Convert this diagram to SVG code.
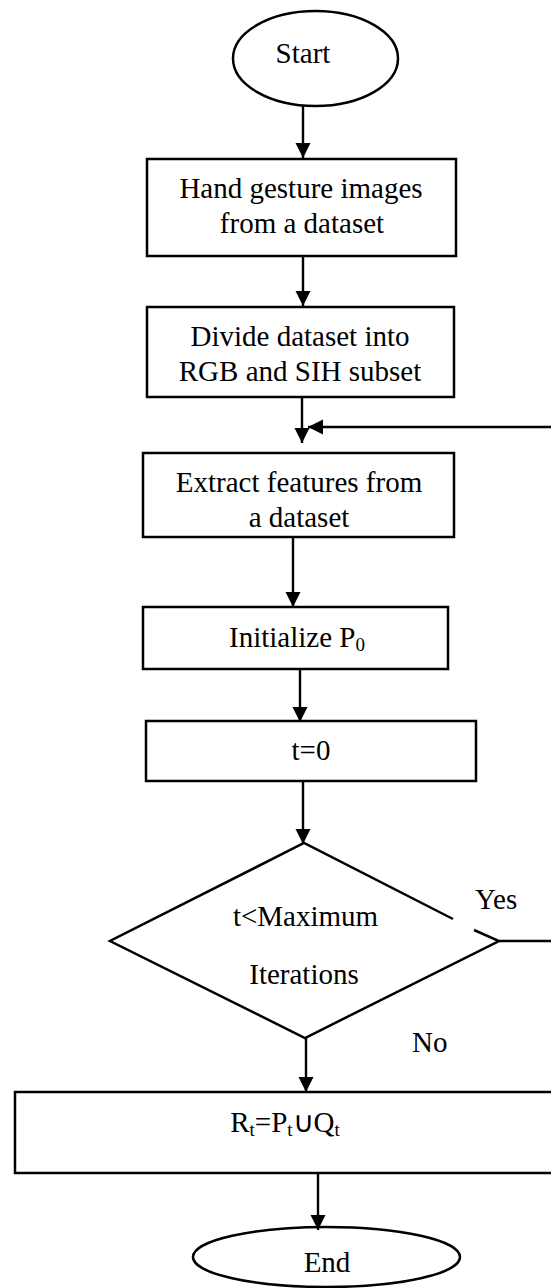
<svg xmlns="http://www.w3.org/2000/svg" width="551" height="1288" viewBox="0 0 551 1288">
<style>
.shape{fill:#fff;stroke:#000;stroke-width:2.5}
.conn{fill:none;stroke:#000;stroke-width:2.4}
text{font-family:"Liberation Serif","Times New Roman",serif;font-size:29px;fill:#000;text-anchor:middle}
.lbl{text-anchor:start}
.sub{font-size:19px}
</style>
<defs>
<marker id="arr" markerUnits="userSpaceOnUse" markerWidth="16" markerHeight="16" refX="15" refY="7.5" orient="auto">
<path d="M0,0 L15,7.5 L0,15 z" fill="#000"/>
</marker>
</defs>
<rect width="551" height="1288" fill="#fff"/>
<g id="start">
<ellipse class="shape" cx="315.5" cy="58.5" rx="82.5" ry="47.5"/>
<text x="303" y="63">Start</text>
</g>
<g id="hand">
<rect class="shape" x="147" y="159" width="309" height="97"/>
<text x="301" y="198">Hand gesture images</text>
<text x="302" y="233">from a dataset</text>
</g>
<g id="divide">
<rect class="shape" x="147" y="307" width="307" height="90"/>
<text x="300" y="346">Divide dataset into</text>
<text x="300" y="381">RGB and SIH subset</text>
</g>
<g id="extract">
<rect class="shape" x="143" y="453" width="311" height="84"/>
<text x="299" y="492">Extract features from</text>
<text x="299" y="527">a dataset</text>
</g>
<g id="init">
<rect class="shape" x="143" y="607" width="305" height="62"/>
<text x="297" y="647">Initialize P<tspan class="sub" dy="4">0</tspan></text>
</g>
<g id="t0">
<rect class="shape" x="146" y="721" width="330" height="60"/>
<text x="311" y="760">t=0</text>
</g>
<g id="decision">
<path class="shape" d="M453,919 L304,843 L110,941 L305,1038 L499,941 L474,930"/>
<text x="305.5" y="926">t&lt;Maximum</text>
<text x="304" y="984">Iterations</text>
</g>
<g id="union">
<rect class="shape" x="15" y="1092" width="545" height="81"/>
<text x="285" y="1132">R<tspan class="sub" dy="4">t</tspan><tspan dy="-4">=P</tspan><tspan class="sub" dy="4">t</tspan><tspan dy="-4">∪Q</tspan><tspan class="sub" dy="4">t</tspan></text>
</g>
<g id="end">
<ellipse class="shape" cx="326.5" cy="1257" rx="133.5" ry="30"/>
<text x="327" y="1272">End</text>
</g>
<g id="connectors">
<line class="conn" x1="303" y1="106" x2="303" y2="158" marker-end="url(#arr)"/>
<line class="conn" x1="303" y1="256" x2="303" y2="306" marker-end="url(#arr)"/>
<line class="conn" x1="302" y1="397" x2="302" y2="443" marker-end="url(#arr)"/>
<line class="conn" x1="551" y1="427" x2="308" y2="427" marker-end="url(#arr)"/>
<line class="conn" x1="293" y1="537" x2="293" y2="607" marker-end="url(#arr)"/>
<line class="conn" x1="300" y1="669" x2="300" y2="722" marker-end="url(#arr)"/>
<line class="conn" x1="303" y1="781" x2="303" y2="844" marker-end="url(#arr)"/>
<line class="conn" x1="499" y1="941" x2="551" y2="941"/>
<line class="conn" x1="306" y1="1038" x2="306" y2="1092" marker-end="url(#arr)"/>
<line class="conn" x1="318" y1="1173" x2="318" y2="1230" marker-end="url(#arr)"/>
<text class="lbl" x="475" y="909">Yes</text>
<text class="lbl" x="412" y="1052">No</text>
</g>
</svg>
